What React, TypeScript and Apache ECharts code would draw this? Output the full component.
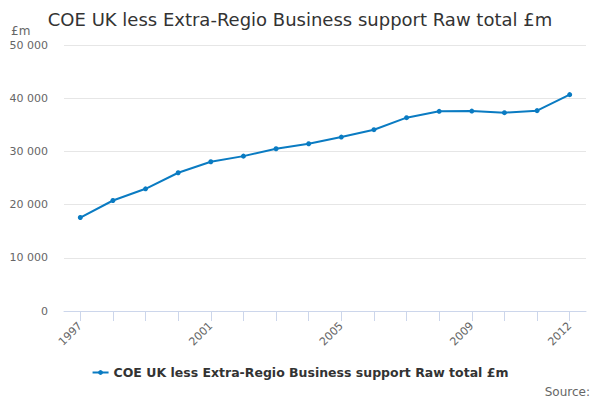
import React, { useEffect, useRef } from "react";
import * as echarts from "echarts";

const years = ["1997","1998","1999","2000","2001","2002","2003","2004","2005","2006","2007","2008","2009","2010","2011","2012"];
const values = [17570, 20770, 22970, 25990, 28060, 29110, 30500, 31440, 32690, 34080, 36340, 37530, 37580, 37280, 37660, 40670];
const seriesName = "COE UK less Extra-Regio Business support Raw total £m";
const titleText = "COE UK less Extra-Regio Business support Raw total £m";
const unitText = "£m";
const sourceText = "Source:";

const FONT = "'DejaVu Sans', sans-serif";

export default function App() {
  const ref = useRef<HTMLDivElement>(null);
  useEffect(() => {
    if (!ref.current) return;
    const chart = echarts.init(ref.current, undefined, { renderer: "svg" });
    chart.setOption({
      animation: false,
      textStyle: { fontFamily: FONT },
      title: {
        text: titleText,
        left: "center",
        top: 5,
        textStyle: { fontFamily: FONT, fontSize: 18, fontWeight: "normal", color: "#333333" },
      },
      grid: { left: 64, right: 14, top: 45, bottom: 89, containLabel: false },
      legend: {
        bottom: 16,
        left: "center",
        data: [seriesName],
        itemWidth: 16,
        itemHeight: 6,
        textStyle: { fontFamily: FONT, fontSize: 12.5, fontWeight: "bold", color: "#333333" },
      },
      graphic: [
        {
          type: "text",
          left: 11,
          top: 25,
          style: { text: unitText, fontFamily: FONT, fontSize: 12, fill: "#666666" },
        },
        {
          type: "text",
          right: 10,
          bottom: 2,
          style: { text: sourceText, fontFamily: FONT, fontSize: 12, fill: "#666666" },
        },
      ],
      xAxis: {
        type: "category",
        data: years,
        boundaryGap: true,
        axisLine: { lineStyle: { color: "#ccd6eb" } },
        axisTick: { show: true, alignWithLabel: true, interval: 0, length: 10, lineStyle: { color: "#ccd6eb" } },
        axisLabel: {
          interval: (i: number) => i % 4 === 0 || i === years.length - 1,
          rotate: 45,
          color: "#666666",
          fontSize: 11,
          fontFamily: FONT,
          margin: 13,
        },
      },
      yAxis: {
        type: "value",
        min: 0,
        max: 50000,
        interval: 10000,
        axisLine: { show: false },
        axisTick: { show: false },
        splitLine: { lineStyle: { color: "#e6e6e6" } },
        axisLabel: {
          color: "#666666",
          fontSize: 11,
          fontFamily: FONT,
          margin: 16,
          formatter: (v: number) => String(v).replace(/\B(?=(\d{3})+(?!\d))/g, " "),
        },
      },
      series: [
        {
          name: seriesName,
          type: "line",
          data: values,
          symbol: "circle",
          symbolSize: 5,
          itemStyle: { color: "#0a7bc2" },
          lineStyle: { color: "#0a7bc2", width: 2 },
        },
      ],
    });
    return () => chart.dispose();
  }, []);
  return <div ref={ref} style={{ width: 600, height: 400, position: "absolute", left: 0, top: 0 }} />;
}
